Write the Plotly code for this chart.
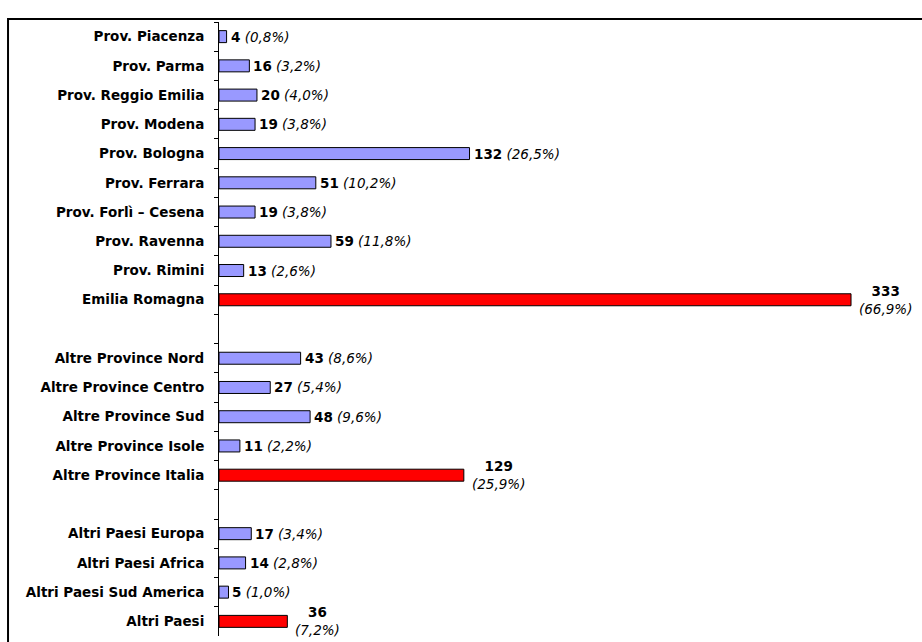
import plotly.graph_objects as go

# categories (blank strings are the gaps between groups)
labels = [
    "Prov. Piacenza", "Prov. Parma", "Prov. Reggio Emilia", "Prov. Modena",
    "Prov. Bologna", "Prov. Ferrara", "Prov. Forlì – Cesena", "Prov. Ravenna",
    "Prov. Rimini", "Emilia Romagna", " ",
    "Altre Province Nord", "Altre Province Centro", "Altre Province Sud",
    "Altre Province Isole", "Altre Province Italia", "  ",
    "Altri Paesi Europa", "Altri Paesi Africa", "Altri Paesi Sud America",
    "Altri Paesi",
]
values = [4, 16, 20, 19, 132, 51, 19, 59, 13, 333, None,
          43, 27, 48, 11, 129, None,
          17, 14, 5, 36]
percents = ["0,8%", "3,2%", "4,0%", "3,8%", "26,5%", "10,2%", "3,8%", "11,8%", "2,6%", "66,9%", None,
            "8,6%", "5,4%", "9,6%", "2,2%", "25,9%", None,
            "3,4%", "2,8%", "1,0%", "7,2%"]
totals = ["Emilia Romagna", "Altre Province Italia", "Altri Paesi"]

BLUE = "#9999FF"
RED = "#FF0000"
FONT = "DejaVu Sans"

colors = [RED if lab in totals else BLUE for lab in labels]

fig = go.Figure()
fig.add_trace(go.Bar(
    x=values, y=labels, orientation="h",
    marker=dict(color=colors, line=dict(color="black", width=1)),
    hoverinfo="skip",
))

for lab, v, p in zip(labels, values, percents):
    if v is None:
        continue
    if lab in totals:
        txt = f"<b>{v}</b><br><i>({p})</i>"
        fig.add_annotation(x=v, y=lab, text=txt, showarrow=False, xanchor="left",
                           yanchor="middle", align="center", xshift=6,
                           font=dict(family=FONT, size=13.5, color="black"))
    else:
        txt = f"<b>{v}</b> <i>({p})</i>"
        fig.add_annotation(x=v, y=lab, text=txt, showarrow=False, xanchor="left",
                           yanchor="middle", xshift=2,
                           font=dict(family=FONT, size=13.5, color="black"))

# outer frame of the original picture
fig.add_shape(type="rect", xref="paper", yref="paper",
              x0=-0.3001, x1=1.2, y0=-0.2, y1=1.0049,
              line=dict(color="black", width=2), layer="below")

fig.update_layout(
    width=922, height=642,
    margin=dict(l=219, r=0, t=22, b=6),
    paper_bgcolor="white", plot_bgcolor="white",
    showlegend=False,
    bargap=0.59,
    font=dict(family=FONT, color="black"),
)
fig.update_xaxes(range=[0, 370.4], visible=False, fixedrange=True)
fig.update_yaxes(
    type="category", categoryorder="array", categoryarray=labels,
    autorange=False, range=[20.5, -0.5],
    showline=True, linecolor="black", linewidth=1,
    ticks="outside", tickson="boundaries", ticklen=4, tickcolor="black", tickwidth=1,
    showgrid=False, ticklabelstandoff=11, fixedrange=True,
    tickfont=dict(family=FONT, size=13.5, color="black", weight="bold"),
)

fig.write_html("out.html", config={"displayModeBar": False},
               post_script="document.body.style.margin='0';document.body.style.overflow='hidden';")
